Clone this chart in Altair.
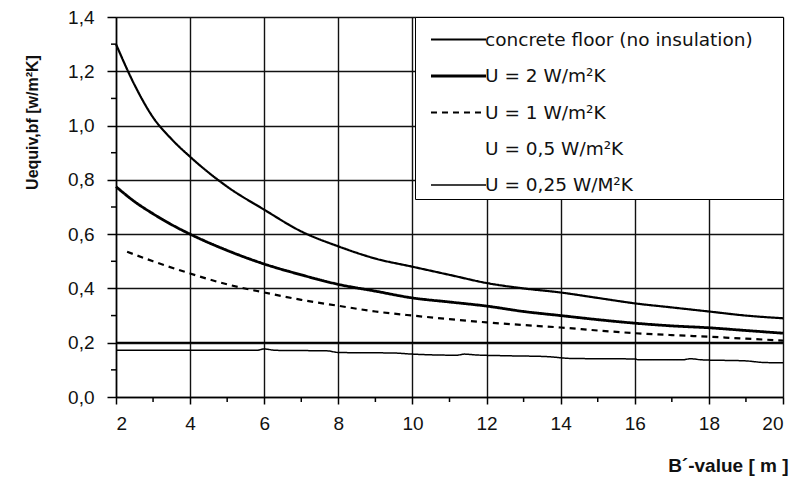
import altair as alt
import pandas as pd

series_names = [
    "concrete floor (no insulation)",
    "U = 2 W/m²K",
    "U = 1 W/m²K",
    "U = 0,5 W/m²K",
    "U = 0,25 W/M²K",
]
# trailing blank characters widen the legend box like in the original
legend_labels = [series_names[0] + "\u00a0\u00a0\u2800"] + series_names[1:]

concrete_x = [2, 2.5, 3, 3.5, 4, 5, 6, 7, 8, 9, 10, 11, 12, 13, 14, 15, 16, 17, 18, 19, 20]
concrete_y = [1.30, 1.15, 1.03, 0.95, 0.885, 0.775, 0.69, 0.61, 0.555, 0.51, 0.48, 0.45,
              0.42, 0.40, 0.385, 0.365, 0.345, 0.33, 0.315, 0.30, 0.29]

u2_x = [2, 2.5, 3, 3.5, 4, 5, 6, 7, 8, 9, 10, 11, 12, 13, 14, 15, 16, 17, 18, 19, 20]
u2_y = [0.775, 0.72, 0.675, 0.635, 0.60, 0.54, 0.49, 0.45, 0.415, 0.39, 0.365, 0.35,
        0.335, 0.315, 0.30, 0.285, 0.272, 0.262, 0.255, 0.245, 0.235]

u1_x = [2.3, 3, 4, 5, 6, 7, 8, 9, 10, 11, 12, 13, 14, 15, 16, 17, 18, 19, 20]
u1_y = [0.535, 0.50, 0.455, 0.415, 0.385, 0.358, 0.336, 0.315, 0.30, 0.287, 0.275,
        0.265, 0.256, 0.245, 0.235, 0.228, 0.222, 0.215, 0.208]

u05_x = [2, 20]
u05_y = [0.201, 0.201]

u025_x = [2, 5.8, 6.0, 6.3, 7.7, 8.0, 9.5, 10.0, 10.6, 11.2, 11.4, 11.7, 12.5, 13.6,
          14.3, 16.0, 16.1, 17.3, 17.5, 17.8, 19.0, 19.5, 20]
u025_y = [0.172, 0.172, 0.177, 0.172, 0.170, 0.164, 0.162, 0.158, 0.155, 0.154, 0.158,
          0.155, 0.152, 0.149, 0.142, 0.140, 0.137, 0.137, 0.141, 0.137, 0.133, 0.127, 0.126]

x_major = [2, 4, 6, 8, 10, 12, 14, 16, 18, 20]
x_minor = [3, 5, 7, 9, 11, 13, 15, 17, 19]
y_major = [0.0, 0.2, 0.4, 0.6, 0.8, 1.0, 1.2, 1.4]
y_minor = [0.1, 0.3, 0.5, 0.7, 0.9, 1.1, 1.3]

frames = []
for name, xs, ys in [
    (legend_labels[0], concrete_x, concrete_y),
    (legend_labels[1], u2_x, u2_y),
    (legend_labels[2], u1_x, u1_y),
    (legend_labels[3], u05_x, u05_y),
    (legend_labels[4], u025_x, u025_y),
]:
    frames.append(pd.DataFrame({"series": name, "x": xs, "y": ys}))
df = pd.concat(frames, ignore_index=True)
main_df = df[df["series"] != legend_labels[3]]
u05_df = df[df["series"] == legend_labels[3]]

FONT = "Liberation Sans"
W, H = 667, 380

x_scale = alt.Scale(domain=[2, 20], nice=False, zero=False)
y_scale = alt.Scale(domain=[0, 1.4], nice=False, zero=True)

x_axis = alt.Axis(
    values=x_major, title="B´-value  [ m ]", titleAlign="right", titleX=W + 5,
    titleFontSize=19, titleFontWeight="bold", titleFont=FONT, titlePadding=23, titleColor="#111",
    labelFont=FONT, labelFontSize=19, labelColor="#111", labelPadding=10,
    tickSize=7, tickColor="black", tickWidth=1.5,
    domainColor="black", domainWidth=1.5,
    grid=True, gridColor="#111", gridWidth=1.4,
)
y_axis = alt.Axis(
    values=y_major, title="Uequiv,bf   [w/m²K]", titleY=105,
    labelExpr="replace(format(datum.value, '.1f'), '.', ',')",
    titleFontSize=16, titleFontWeight="bold", titleFont=FONT, titlePadding=27, titleColor="#111",
    labelFont=FONT, labelFontSize=19, labelColor="#111", labelPadding=13,
    tickSize=9, tickColor="black", tickWidth=1.5,
    domainColor="black", domainWidth=1.5,
    grid=True, gridColor="#111", gridWidth=1.4,
)

legend = alt.Legend(
    title=None, orient="top-right", offset=0,
    fillColor="white", strokeColor="black", padding=4,
    symbolType="M-1.618,0H1.618", symbolSize=1156, symbolOffset=21,
    labelFont="DejaVu Sans", labelFontSize=18.5,
    labelColor="#111", labelOffset=8, labelLimit=600, rowPadding=8.5,
)

color_scale = alt.Scale(domain=legend_labels, range=["black", "black", "black", "white", "black"])
dash_scale = alt.Scale(domain=legend_labels, range=[[1, 0], [1, 0], [6, 5], [1, 0], [1, 0]])
width_scale = alt.Scale(type="ordinal", domain=legend_labels, range=[2.2, 2.8, 2.2, 1.5, 1.5])

lines = alt.Chart(main_df).mark_line(interpolate="monotone").encode(
    x=alt.X("x:Q", scale=x_scale, axis=x_axis),
    y=alt.Y("y:Q", scale=y_scale, axis=y_axis),
    color=alt.Color("series:N", scale=color_scale, sort=legend_labels, legend=legend),
    strokeDash=alt.StrokeDash("series:N", scale=dash_scale, sort=legend_labels, legend=legend),
    strokeWidth=alt.StrokeWidth("series:N", scale=width_scale, sort=legend_labels, legend=legend),
)

u05_line = alt.Chart(u05_df).mark_line(color="black", strokeWidth=1.4).encode(
    x=alt.X("x:Q", scale=x_scale, axis=x_axis),
    y=alt.Y("y:Q", scale=y_scale, axis=y_axis),
)

minor_x_ticks = alt.Chart(pd.DataFrame({"x": x_minor})).mark_rule(
    color="black", strokeWidth=1.5
).encode(
    x=alt.X("x:Q", scale=x_scale, axis=x_axis),
    y=alt.value(H),
    y2=alt.value(H + 5),
)

minor_y_ticks = alt.Chart(pd.DataFrame({"y": y_minor})).mark_rule(
    color="black", strokeWidth=1.5
).encode(
    y=alt.Y("y:Q", scale=y_scale, axis=y_axis),
    x=alt.value(-5),
    x2=alt.value(0),
)

chart = alt.layer(lines, u05_line, minor_x_ticks, minor_y_ticks).properties(
    width=W, height=H,
    autosize=alt.AutoSizeParams(type="none"),
    padding={"left": 108, "top": 9, "right": 6, "bottom": 84},
    background="white",
).configure_view(stroke=None)

chart.save("out.html", embed_options={"renderer": "svg", "actions": False})
